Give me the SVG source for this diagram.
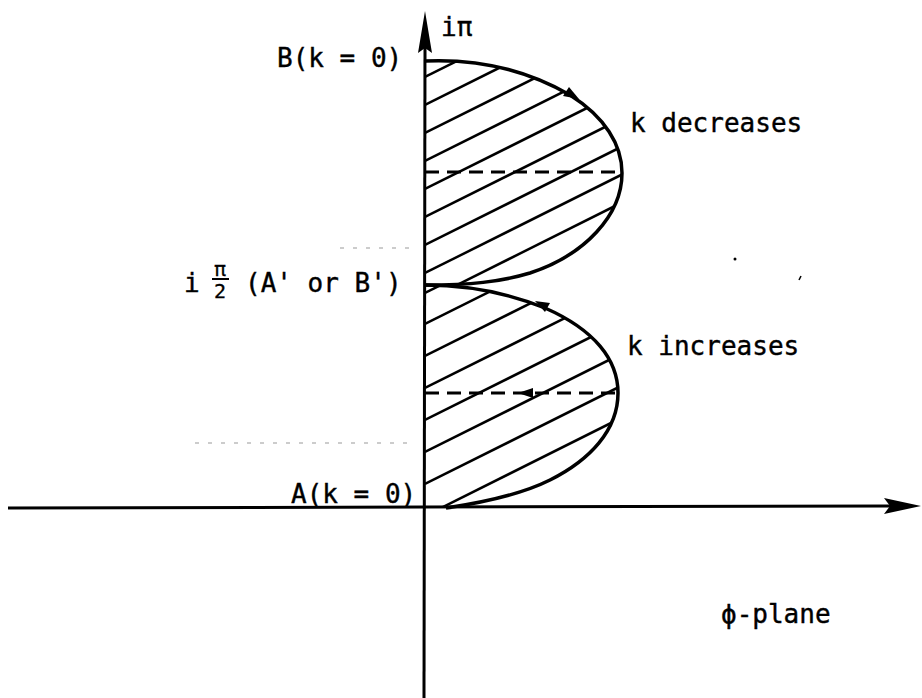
<svg xmlns="http://www.w3.org/2000/svg" width="922" height="698" viewBox="0 0 922 698">
<style>
  .lbl { font-family: "DejaVu Sans Mono", "Liberation Mono", monospace; font-size: 26px; fill: #000; stroke: #000; stroke-width: 0.4; }
  .small { font-family: "DejaVu Sans Mono", "Liberation Mono", monospace; font-size: 20px; fill: #000; stroke: #000; stroke-width: 0.3; }
  .axis { stroke: #000; stroke-width: 3; fill: none; }
  .curve { stroke: #000; stroke-width: 3.5; fill: none; stroke-linejoin: round; }
  .hatch { stroke: #000; stroke-width: 2.5; }
  .dash { stroke: #000; stroke-width: 3; stroke-dasharray: 14 8; fill: none; }
  .faint { stroke: #999; stroke-width: 1; stroke-dasharray: 4 9; fill: none; }
</style>
<defs>
  <clipPath id="clipTop">
    <path d="M425,61 C470,59 520,66 570,95 C605,117 622,145 622,173 C622,215 585,255 530,273 C500,282 470,285 425,285 Z"/>
  </clipPath>
  <clipPath id="clipBot">
    <path d="M425,285 C470,285 510,294 545,308 C595,330 618,360 618,393 C618,430 590,460 550,480 C520,495 480,503 448,508 L425,508 Z"/>
  </clipPath>
</defs>
<rect width="922" height="698" fill="#fff"/>

<g id="faint-marks">
  <line class="faint" x1="340" y1="248" x2="412" y2="248"/>
  <line class="faint" x1="195" y1="443" x2="412" y2="443"/>
  <circle cx="735" cy="259" r="1.5" fill="#000"/>
  <line x1="801" y1="276" x2="799" y2="280" stroke="#000" stroke-width="1.5"/>
</g>

<g id="lobe-top">
  <g clip-path="url(#clipTop)">
    <g class="hatch">
      <line x1="425" y1="77" x2="645" y2="-33"/>
      <line x1="425" y1="105" x2="645" y2="-5"/>
      <line x1="425" y1="133" x2="645" y2="23"/>
      <line x1="425" y1="161" x2="645" y2="51"/>
      <line x1="425" y1="189" x2="645" y2="79"/>
      <line x1="425" y1="217" x2="645" y2="107"/>
      <line x1="425" y1="245" x2="645" y2="135"/>
      <line x1="425" y1="273" x2="645" y2="163"/>
      <line x1="425" y1="301" x2="645" y2="191"/>
      <line x1="425" y1="329" x2="645" y2="219"/>
      <line x1="425" y1="357" x2="645" y2="247"/>
      <line x1="425" y1="385" x2="645" y2="275"/>
    </g>
  </g>
  <path class="curve" d="M425,61 C470,59 520,66 570,95 C605,117 622,145 622,173 C622,215 585,255 530,273 C500,282 470,285 425,285"/>
  <line class="dash" x1="425" y1="172" x2="622" y2="172"/>
  <polygon points="579,99 563,96 569,87" fill="#000"/>
</g>

<g id="lobe-bottom">
  <g clip-path="url(#clipBot)">
    <g class="hatch">
      <line x1="425" y1="293" x2="645" y2="183"/>
      <line x1="425" y1="324" x2="645" y2="214"/>
      <line x1="425" y1="356" x2="645" y2="246"/>
      <line x1="425" y1="388" x2="645" y2="278"/>
      <line x1="425" y1="420" x2="645" y2="310"/>
      <line x1="425" y1="452" x2="645" y2="342"/>
      <line x1="425" y1="484" x2="645" y2="374"/>
      <line x1="425" y1="516" x2="645" y2="406"/>
      <line x1="425" y1="548" x2="645" y2="438"/>
      <line x1="425" y1="580" x2="645" y2="470"/>
      <line x1="425" y1="612" x2="645" y2="502"/>
    </g>
  </g>
  <path class="curve" d="M425,285 C470,285 510,294 545,308 C595,330 618,360 618,393 C618,430 590,460 550,480 C520,495 480,503 446,508"/>
  <line class="dash" x1="425" y1="393" x2="618" y2="393"/>
  <polygon points="535,301 550,303 545,312" fill="#000"/>
  <polygon points="518,393 533,388 533,398" fill="#000"/>
</g>

<g id="axes">
  <line class="axis" x1="425" y1="40" x2="424" y2="698"/>
  <polygon points="425,11 432,53 425,48 418,53" fill="#000"/>
  <line class="axis" x1="8" y1="508" x2="890" y2="506"/>
  <polygon points="921,506 884,498 890,506 884,514" fill="#000"/>
</g>

<g id="labels">
  <text class="lbl" x="441" y="36">iπ</text>
  <text class="lbl" x="277" y="67">B(k = 0)</text>
  <text class="lbl" x="184" y="292">i</text>
  <text class="small" x="214" y="276">π</text>
  <line x1="212" y1="279" x2="229" y2="279" stroke="#000" stroke-width="2"/>
  <text class="small" x="214" y="298">2</text>
  <text class="lbl" x="245" y="292">(A' or B')</text>
  <text class="lbl" x="291" y="503">A(k = 0)</text>
  <text class="lbl" x="630" y="132">k decreases</text>
  <text class="lbl" x="627" y="355">k increases</text>
  <text class="lbl" x="721" y="623">ϕ-plane</text>
</g>
</svg>
